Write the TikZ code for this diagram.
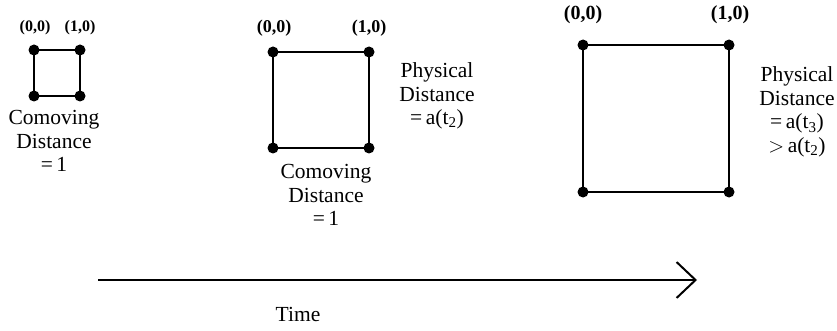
\documentclass[tikz,border=0pt]{standalone}
\usepackage{fontspec}
\setmainfont{Liberation Serif}
\usepackage{tikz}
\usetikzlibrary{arrows.meta,positioning}

\begin{document}
\begin{tikzpicture}[x=1pt,y=-1pt,
    side/.style={line width=2pt,line join=round},
    txt/.style={align=center,inner sep=0pt,font=\fontsize{21.5}{23.5}\selectfont},
    corner/.style={inner sep=0pt,font=\bfseries\fontsize{#1}{#1}\selectfont}]
        \useasboundingbox (0,0) rectangle (837,331);

        % the three comoving squares, growing with time
        \foreach \n/\xa/\ya/\xb/\yb in {1/34/50/80/96,2/273/52/369/148,3/583/45/729/192} {
          \coordinate (tl\n) at (\xa,\ya);
          \coordinate (tr\n) at (\xb,\ya);
          \coordinate (bl\n) at (\xa,\yb);
          \coordinate (br\n) at (\xb,\yb);
          \draw[side] (tl\n) -- (tr\n) -- (br\n) -- (bl\n) -- cycle;
          \foreach \c in {tl,tr,br,bl} {
            \fill (\c\n) circle (5.5pt);
          }
        }

        % corner labels
        \node[corner=16] (za1) at (35,28) {(0,0)};
        \node[corner=16] (zb1) at (80,28) {(1,0)};
        \node[corner=18] (za2) at (274,28) {(0,0)};
        \node[corner=18] (zb2) at (369,28) {(1,0)};
        \node[corner=20] (za3) at (583,15) {(0,0)};
        \node[corner=20] (zb3) at (730,15) {(1,0)};

        % distances
        \node[txt] (como1) at (54,141) {Comoving\\Distance\\=\,1};
        \node[txt] (como2) at (326,195) {Comoving\\Distance\\=\,1};
        \node[txt] (phys2) at (437,96) {Physical\\Distance\\=\,a(t\textsubscript{2})};
        \node[txt] (phys3) at (797,112) {Physical\\Distance\\=\,a(t\textsubscript{3})\\$>$\,a(t\textsubscript{2})};

        % time axis
        \coordinate (t0) at (98,280);
        \coordinate (t1) at (697,280);
        \draw[line width=1.5pt,-{Straight Barb[length=19pt,width=36pt,line width=2pt]}] (t0) -- (t1);
        \node[txt] (time) at (298,314) {Time};
      \end{tikzpicture}
\end{document}
